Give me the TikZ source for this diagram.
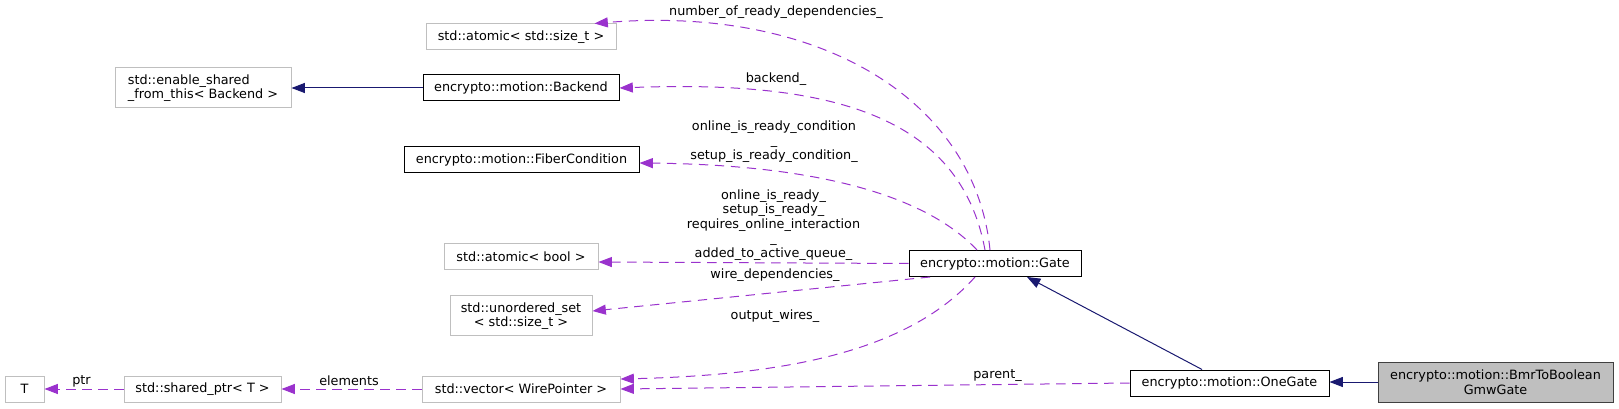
\documentclass[tikz,border=0pt]{standalone}
\usepackage{fontspec}
\setmainfont{DejaVu Sans}
\usetikzlibrary{arrows.meta}
\definecolor{depcol}{HTML}{9A32CD}
\definecolor{inhcol}{HTML}{191970}
\definecolor{extgray}{HTML}{BFBFBF}
\definecolor{rootfill}{HTML}{BFBFBF}
\definecolor{rootdraw}{HTML}{404040}
\begin{document}
\begin{tikzpicture}[x=0.75pt,y=-0.75pt,
  font=\fontsize{9.6}{10.9}\selectfont,
  box/.style={line width=0.75pt, inner sep=0pt, align=center, minimum height=19.5pt},
  ext/.style={box, draw=extgray},
  docbox/.style={box, draw=black},
  rootbox/.style={box, draw=rootdraw, fill=rootfill},
  depedge/.style={color=depcol, line width=0.75pt, dash pattern=on 7pt off 5pt,
    -{Triangle[length=10pt,width=7.5pt]}},
  inhedge/.style={color=inhcol, line width=0.75pt,
    -{Triangle[length=10pt,width=7.5pt]}},
  lbl/.style={inner sep=0pt, align=center, text=black}
]
\useasboundingbox (0,0) rectangle (1619,409);

% nodes
\node[ext, minimum width=142.5pt] (atomicsize) at (521,37) {std::atomic< std::size\_t >};
\node[ext, minimum width=132pt, minimum height=30pt, align=left] (enable) at (203,88) {std::enable\_shared\\\_from\_this< Backend >};
\node[docbox, minimum width=147pt] (backend) at (521,88) {encrypto::motion::Backend};
\node[docbox, minimum width=176.25pt] (fiber) at (521.5,160) {encrypto::motion::FiberCondition};
\node[ext, minimum width=115.5pt] (atomicbool) at (521,257) {std::atomic< bool >};
\node[ext, minimum width=106.5pt, minimum height=30pt] (unordered) at (521,316) {std::unordered\_set\\< std::size\_t >};
\node[ext, minimum width=148.5pt] (vector) at (521,389) {std::vector< WirePointer >};
\node[ext, minimum width=117.75pt] (sharedptr) at (202.5,389) {std::shared\_ptr< T >};
\node[ext, minimum width=29.25pt] (T) at (24.5,389) {T};
\node[docbox, minimum width=129pt] (gate) at (995,263.5) {encrypto::motion::Gate};
\node[docbox, minimum width=149.25pt] (onegate) at (1229.5,383) {encrypto::motion::OneGate};
\node[rootbox, minimum width=176.25pt, minimum height=30pt] (bmr) at (1495.5,382) {encrypto::motion::BmrToBoolean\\GmwGate};

% inheritance edges
\draw[inhedge] (backend.west) -- (enable.east);
\draw[inhedge] ([xshift=-20.6pt]onegate.north) -- ([xshift=24pt]gate.south);
\draw[inhedge] (bmr.west) -- (bmr.west -| onegate.east);

% usage edges
\draw[depedge] ([xshift=-3.75pt]gate.north) .. controls (975,100) and (820,5) .. ([xshift=-16.5pt]atomicsize.north east);
\draw[depedge] ([xshift=-7.5pt]gate.north) .. controls (960,115) and (830,80) .. (backend.east);
\draw[depedge] ([xshift=-13.5pt]gate.north) .. controls (930,200) and (830,165) .. ([yshift=-2.25pt]fiber.east);
\draw[depedge] (gate.west) -- ([yshift=-3.75pt]atomicbool.east);
\draw[depedge] ([xshift=-48.75pt]gate.south) -- ([yshift=3.75pt]unordered.east);
\draw[depedge] ([xshift=-15pt]gate.south) .. controls (910,350) and (790,375) .. ([yshift=7.5pt]vector.east);
\draw[depedge] (onegate.west) -- (vector.east);
\draw[depedge] (vector.west) -- (sharedptr.east);
\draw[depedge] (sharedptr.west) -- (T.east);

% edge labels
\node[lbl] (l1) at (776,12) {number\_of\_ready\_dependencies\_};
\node[lbl] (l2) at (776,79) {backend\_};
\node[lbl] (l3) at (774,141.5) {online\_is\_ready\_condition\\\_\\setup\_is\_ready\_condition\_};
\node[lbl] (l4) at (773.5,225) {online\_is\_ready\_\\setup\_is\_ready\_\\requires\_online\_interaction\\\_\\added\_to\_active\_queue\_};
\node[lbl] (l5) at (775,275) {wire\_dependencies\_};
\node[lbl] (l6) at (775,316.5) {output\_wires\_};
\node[lbl] (l7) at (997.5,376) {parent\_};
\node[lbl] (l8) at (349,380.5) {elements};
\node[lbl] (l9) at (81.5,381.5) {ptr};
\end{tikzpicture}
\end{document}
